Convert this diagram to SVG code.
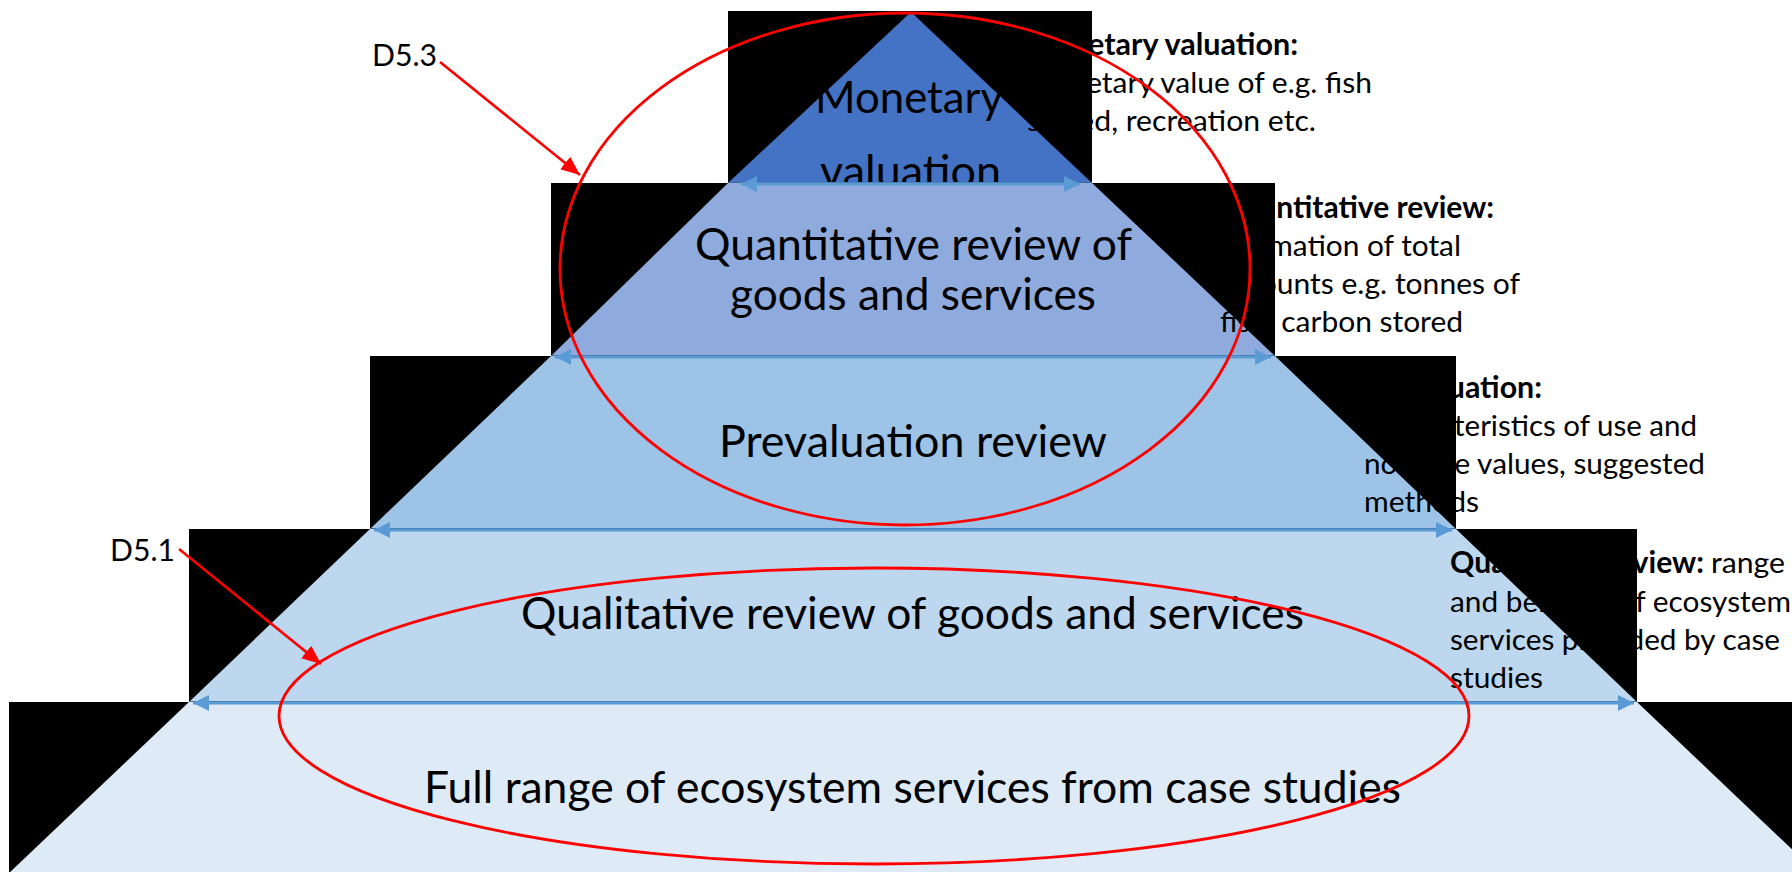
<svg xmlns="http://www.w3.org/2000/svg" width="1792" height="872" viewBox="0 0 1792 872">
  <style>
    .bg { fill: #000000; }
    .lbl { font-family: Lato, "Liberation Sans", sans-serif; font-size: 44px; fill: #000000; }
    .desc { font-family: Lato, "Liberation Sans", sans-serif; font-size: 29.5px; fill: #000000; }
    .b { font-weight: bold; }
    .tag { font-family: Lato, "Liberation Sans", sans-serif; font-size: 31px; fill: #000000; }
    .edge { stroke: #3F6A96; stroke-width: 1; }
    .span { stroke: #5B9BD5; stroke-width: 3; fill: none; marker-start: url(#blueStart); marker-end: url(#blueEnd); }
    .ring { fill: none; stroke: #FF0000; stroke-width: 2.8; }
    .pointer { stroke: #FF0000; stroke-width: 2.6; fill: none; marker-end: url(#redHead); }
  </style>
  <defs>
    <marker id="blueEnd" markerUnits="userSpaceOnUse" markerWidth="17" markerHeight="17" refX="16" refY="8" orient="auto">
      <path d="M0,0 L16,8 L0,16 z" fill="#5B9BD5"/>
    </marker>
    <marker id="blueStart" markerUnits="userSpaceOnUse" markerWidth="17" markerHeight="17" refX="0" refY="8" orient="auto">
      <path d="M16,0 L0,8 L16,16 z" fill="#5B9BD5"/>
    </marker>
    <marker id="redHead" markerUnits="userSpaceOnUse" markerWidth="20" markerHeight="16" refX="19" refY="8" orient="auto">
      <path d="M0,0 L19,8 L0,16 z" fill="#FF0000"/>
    </marker>
  </defs>

  <rect x="0" y="0" width="1792" height="872" fill="#FFFFFF"/>

  <!-- pyramid tiers, top to bottom -->
  <g id="tier-monetary">
    <rect class="bg" x="728" y="11" width="364" height="172"/>
    <polygon points="911,12 728,183 1092,183" fill="#4472C4"/>
    <text class="lbl" x="815" y="113" textLength="188" lengthAdjust="spacingAndGlyphs">Monetary</text>
    <text class="lbl" x="820" y="187" textLength="181" lengthAdjust="spacingAndGlyphs">valuation</text>
  </g>
  <g id="tier-quantitative">
    <rect class="bg" x="551" y="183" width="724" height="173"/>
    <polygon points="728,183 1092,183 1275,356 551,356" fill="#8FAADC"/>
    <text class="lbl" x="695" y="260" textLength="437" lengthAdjust="spacingAndGlyphs">Quantitative review of</text>
    <text class="lbl" x="730" y="310" textLength="366" lengthAdjust="spacingAndGlyphs">goods and services</text>
  </g>
  <g id="tier-prevaluation">
    <rect class="bg" x="370" y="356" width="1086" height="173"/>
    <polygon points="551,356 1275,356 1456,529 370,529" fill="#9DC3E6"/>
    <text class="lbl" x="719" y="457" textLength="388" lengthAdjust="spacingAndGlyphs">Prevaluation review</text>
  </g>
  <g id="tier-qualitative">
    <rect class="bg" x="189" y="529" width="1448" height="173"/>
    <polygon points="370,529 1456,529 1637,702 189,702" fill="#BDD7EE"/>
    <text class="lbl" x="521" y="629" textLength="783" lengthAdjust="spacingAndGlyphs">Qualitative review of goods and services</text>
  </g>
  <g id="tier-full-range">
    <rect class="bg" x="9" y="702" width="1808" height="172"/>
    <polygon points="189,702 1637,702 1819,875 7,875" fill="#DEEBF7"/>
    <text class="lbl" x="424" y="803" textLength="977" lengthAdjust="spacingAndGlyphs">Full range of ecosystem services from case studies</text>
  </g>

  <!-- tier boundaries with width arrows -->
  <g id="connectors">
    <line class="edge" x1="728" y1="182.5" x2="1092" y2="182.5"/>
    <line class="edge" x1="551" y1="355.5" x2="1275" y2="355.5"/>
    <line class="edge" x1="370" y1="528.5" x2="1456" y2="528.5"/>
    <line class="edge" x1="189" y1="701.5" x2="1637" y2="701.5"/>
    <line class="span" x1="741" y1="184" x2="1080" y2="184"/>
    <line class="span" x1="555" y1="357" x2="1271" y2="357"/>
    <line class="span" x1="374" y1="530" x2="1452" y2="530"/>
    <line class="span" x1="193" y1="703" x2="1634" y2="703"/>
    <line class="pointer" x1="440" y1="62" x2="580" y2="175"/>
    <line class="pointer" x1="179" y1="549" x2="321" y2="664"/>
  </g>

  <!-- level descriptions -->
  <g id="desc-monetary">
    <text class="desc b" x="1025" y="55" textLength="273" lengthAdjust="spacingAndGlyphs">Monetary valuation:</text>
    <text class="desc" x="1025" y="93" textLength="347" lengthAdjust="spacingAndGlyphs">Monetary value of e.g. fish</text>
    <text class="desc" x="1027" y="131" textLength="289" lengthAdjust="spacingAndGlyphs">stored, recreation etc.</text>
  </g>
  <g id="desc-quantitative">
    <text class="desc b" x="1220" y="218" textLength="274" lengthAdjust="spacingAndGlyphs">Quantitative review:</text>
    <text class="desc" x="1220" y="256" textLength="241" lengthAdjust="spacingAndGlyphs">Estimation of total</text>
    <text class="desc" x="1220" y="294" textLength="300" lengthAdjust="spacingAndGlyphs">amounts e.g. tonnes of</text>
    <text class="desc" x="1220" y="332" textLength="243" lengthAdjust="spacingAndGlyphs">fish, carbon stored</text>
  </g>
  <g id="desc-prevaluation">
    <text class="desc b" x="1364" y="398" textLength="178" lengthAdjust="spacingAndGlyphs">Prevaluation:</text>
    <text class="desc" x="1364" y="436" textLength="333" lengthAdjust="spacingAndGlyphs">Characteristics of use and</text>
    <text class="desc" x="1364" y="474" textLength="341" lengthAdjust="spacingAndGlyphs">non-use values, suggested</text>
    <text class="desc" x="1364" y="512" textLength="115" lengthAdjust="spacingAndGlyphs">methods</text>
  </g>
  <g id="desc-qualitative">
    <text class="desc b" x="1450" y="573" textLength="254" lengthAdjust="spacingAndGlyphs">Qualitative review:</text>
    <text class="desc" x="1711" y="573" textLength="74" lengthAdjust="spacingAndGlyphs">range</text>
    <text class="desc" x="1450" y="612" textLength="341" lengthAdjust="spacingAndGlyphs">and benefits of ecosystem</text>
    <text class="desc" x="1450" y="650" textLength="330" lengthAdjust="spacingAndGlyphs">services provided by case</text>
    <text class="desc" x="1450" y="688" textLength="93" lengthAdjust="spacingAndGlyphs">studies</text>
  </g>

  <!-- deliverable scopes -->
  <g id="scope-d53">
    <ellipse class="ring" cx="905" cy="269" rx="345" ry="256"/>
    <text class="tag" x="372" y="66" textLength="65" lengthAdjust="spacingAndGlyphs">D5.3</text>
  </g>
  <g id="scope-d51">
    <ellipse class="ring" cx="874" cy="716" rx="595" ry="148"/>
    <text class="tag" x="110" y="561" textLength="65" lengthAdjust="spacingAndGlyphs">D5.1</text>
  </g>
</svg>
